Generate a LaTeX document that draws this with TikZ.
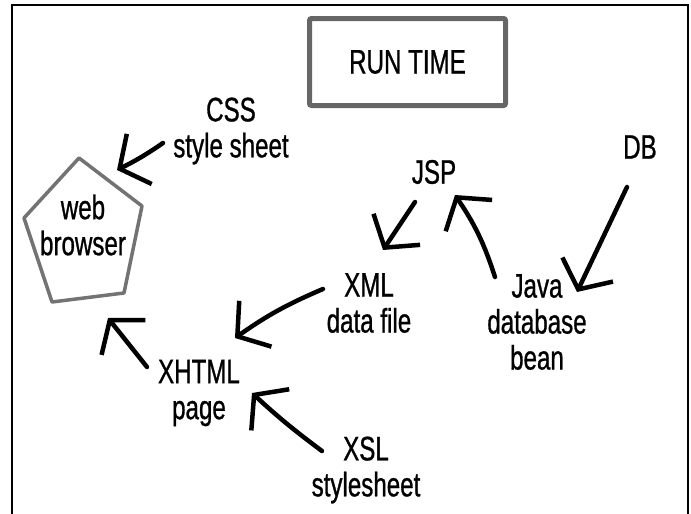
\documentclass[tikz,border=0pt]{standalone}
\usepackage{fontspec}
\setmainfont{Liberation Sans}[FakeStretch=0.71, FakeBold=0.8]
\usetikzlibrary{arrows.meta}

\begin{document}
\begin{tikzpicture}[x = 1pt, y = -1pt,
		tag/.style = {align = center, inner sep = 0pt, font = \fontsize{34}{36}\selectfont},
		scrawl/.style = {-{Straight Barb[length = 22pt, width = 56pt]}, line width = 4.5pt, line cap = round, line join = round}]
		\useasboundingbox (0,0) rectangle (691,514);
		
		% open frame, no bottom edge
		\draw [line width = 2pt] (12,514) -- (12,5) -- (688,5) -- (688,514);
		
		\node [tag, draw = black!60, line width = 5pt, rounded corners = 2pt, minimum width = 196pt, minimum height = 87pt] (run) at (407.5,62) {RUN TIME};
		
		\node [tag] (web) at (83,225) {web\\browser};
		\node [tag] (css) at (231,131) {CSS\\style sheet};
		\node [tag] (jsp) at (434,172) {JSP};
		\node [tag] (db) at (640,147) {DB};
		\node [tag] (xml) at (369,303) {XML\\data file};
		\node [tag] (java) at (537,322) {Java\\database\\bean};
		\node [tag] (xhtml) at (199,393) {XHTML\\page};
		\node [tag] (xsl) at (366,470) {XSL\\stylesheet};
		
		% pentagon round the browser
		\draw [black!55, line width = 3.5pt, line join = round]
			([shift = {(-4,-67)}]web.center) -- ([shift = {(59,-19)}]web.center)
			-- ([shift = {(41,68)}]web.center) -- ([shift = {(-31,77)}]web.center)
			-- ([shift = {(-59,-7)}]web.center) -- cycle;
		
		\begin{scope}[scrawl]
			\draw ([shift = {(-68,12)}]css.center) to [bend left = 4] ([shift = {(34,-55)}]web.center);
			\draw ([shift = {(-19,30)}]jsp.center) -- ([shift = {(14,-53)}]xml.center);
			\draw ([shift = {(-42,-45)}]java.center) to [bend right = 8] ([shift = {(21,23)}]jsp.center);
			\draw ([shift = {(-13,40)}]db.center) -- ([shift = {(40,-30)}]java.center);
			\draw ([shift = {(-46,-14)}]xml.center) to [bend right = 6] ([shift = {(36,-55)}]xhtml.center);
			\draw ([shift = {(-52,-26)}]xhtml.center) -- ([shift = {(25,93)}]web.center);
			\draw ([shift = {(-44,-19)}]xsl.center) to [bend left = 3] ([shift = {(53,0)}]xhtml.center);
		\end{scope}
	\end{tikzpicture}
\end{document}
